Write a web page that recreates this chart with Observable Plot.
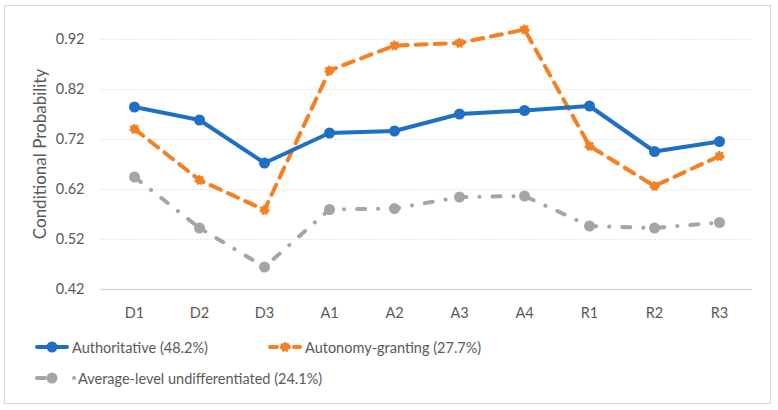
<!DOCTYPE html>
<html>
<head>
<meta charset="utf-8">
<script src="https://cdn.jsdelivr.net/npm/d3@7"></script>
<script src="https://cdn.jsdelivr.net/npm/@observablehq/plot@0.6"></script>
<style>
  body { margin: 0; background: #fff; font-family: Lato, "Open Sans", sans-serif; }
  #wrap { position: relative; width: 778px; height: 410px; }
  #frame { position: absolute; left: 4px; top: 5px; width: 767px; height: 399px; border: 1px solid #d9d9d9; box-sizing: border-box; pointer-events: none; }
  #chart { position: absolute; left: 0; top: 0; }
  .leg { position: absolute; display: flex; align-items: center; font-size: 14.5px; color: #595959; white-space: nowrap; }
  .leg svg { display: block; margin-right: 3px; }
</style>
</head>
<body>
<div id="wrap">
  <div id="chart"></div>
  <div id="legend"></div>
  <div id="frame"></div>
</div>
<script>
const dims = ["D1", "D2", "D3", "A1", "A2", "A3", "A4", "R1", "R2", "R3"]
const authoritative = [0.785, 0.759, 0.673, 0.733, 0.737, 0.771, 0.778, 0.787, 0.696, 0.716]
const autonomy = [0.741, 0.639, 0.579, 0.858, 0.908, 0.913, 0.940, 0.707, 0.627, 0.687]
const average = [0.645, 0.543, 0.465, 0.580, 0.582, 0.605, 0.607, 0.547, 0.543, 0.554]
const yTicks = [0.42, 0.52, 0.62, 0.72, 0.82, 0.92]

const series = [
  {name: "Authoritative (48.2%)", values: authoritative, color: "#1f6fc5", dash: null},
  {name: "Autonomy-granting (27.7%)", values: autonomy, color: "#f57f21", dash: "11,8"},
  {name: "Average-level undifferentiated (24.1%)", values: average, color: "#a5a5a5", dash: "8,13,0.1,13"}
]

const rows = series.flatMap(s => dims.map((d, i) => ({dim: d, value: s.values[i], series: s.name})))

const marks = [
  Plot.ruleY(yTicks.slice(1), {stroke: "#d9d9d9", strokeWidth: 1, strokeDasharray: "1,1.5"}),
  Plot.ruleY([0.42], {stroke: "#d9d9d9", strokeWidth: 1.6}),
  Plot.axisY(yTicks, {tickSize: 0, tickPadding: 16, tickFormat: d3.format(".2f"), fontSize: 14.5, color: "#595959",
    label: null}),
  Plot.axisX({tickSize: 0, tickPadding: 18, fontSize: 14.5, color: "#595959", label: null})
]

// draw gray first, then orange, then blue on top
for (const s of [...series].reverse()) {
  const data = rows.filter(r => r.series === s.name)
  marks.push(Plot.line(data, {x: "dim", y: "value", stroke: s.color, strokeWidth: 4,
    strokeDasharray: s.dash, strokeLinecap: "round", strokeLinejoin: "round"}))
  if (s.name.startsWith("Autonomy")) {
    marks.push(Plot.dot(data, {x: "dim", y: "value", r: 4, fill: s.color, stroke: s.color, strokeWidth: 2.2, strokeDasharray: "2,1.4"}))
  } else {
    marks.push(Plot.dot(data, {x: "dim", y: "value", r: 5.5, fill: s.color, stroke: "none"}))
  }
}

const chart = Plot.plot({
  width: 778,
  height: 330,
  marginLeft: 100,
  marginRight: 26,
  marginTop: 19,
  marginBottom: 41,
  style: {fontFamily: "Lato, 'Open Sans', sans-serif", fontSize: "14.5px", color: "#595959", background: "transparent"},
  x: {type: "point", domain: dims, padding: 0.5},
  y: {domain: [0.42, 0.96]},
  marks
})
document.getElementById("chart").append(chart)

// y-axis title, rotated, centred on the plot area
d3.select(chart).append("text")
  .attr("transform", `translate(46,${(19 + 289) / 2}) rotate(-90)`)
  .attr("text-anchor", "middle")
  .attr("fill", "#595959")
  .style("font-size", "17px")
  .text("Conditional Probability")

// legend below the svg
const legendPos = [
  {left: 35, top: 337, lineW: 34},
  {left: 268, top: 337, lineW: 34},
  {left: 35, top: 368, lineW: 34}
]
const legend = d3.select("#legend")
series.forEach((s, i) => {
  const p = legendPos[i]
  const item = legend.append("div").attr("class", "leg").style("left", p.left + "px").style("top", p.top + "px").style("height", "20px")
  const sw = item.append("svg").attr("width", p.lineW).attr("height", 20)
  sw.append("line").attr("x1", 2).attr("x2", p.lineW - 2).attr("y1", 10).attr("y2", 10)
    .attr("stroke", s.color).attr("stroke-width", 4).attr("stroke-linecap", "round")
    .attr("stroke-dasharray", s.dash ? (i === 1 ? "7,5" : "8,40") : null)
  if (i === 1) {
    sw.append("circle").attr("cx", p.lineW / 2).attr("cy", 10).attr("r", 4).attr("fill", s.color)
      .attr("stroke", s.color).attr("stroke-width", 2.2).attr("stroke-dasharray", "2,1.4")
  } else {
    sw.append("circle").attr("cx", p.lineW / 2).attr("cy", 10).attr("r", 5.5).attr("fill", s.color)
  }
  if (i === 2) {
    item.append("span").style("display", "inline-block").style("width", "4px").style("height", "4px")
      .style("border-radius", "2px").style("background", s.color).style("margin-right", "2px")
  }
  item.append("span").text(s.name)
})
</script>
</body>
</html>
